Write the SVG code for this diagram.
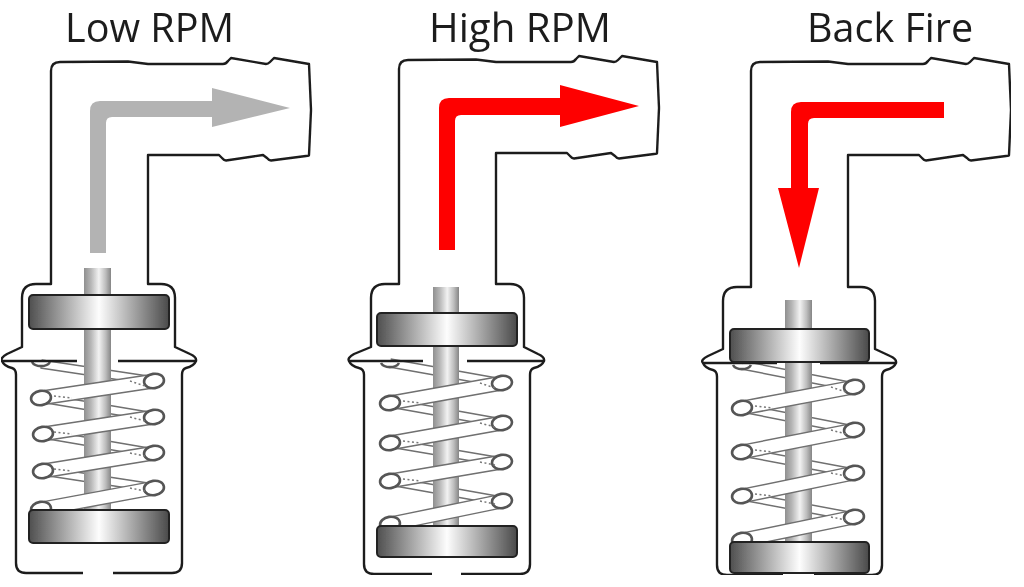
<svg xmlns="http://www.w3.org/2000/svg" width="1024" height="587" viewBox="0 0 1024 587">
<style>
.title{font-family:"Open Sans","Liberation Sans",sans-serif;font-size:39.5px;fill:#1c1c1c}
.ln{fill:none;stroke:#1e1e1e;stroke-width:2.4;stroke-linejoin:round}
.stem{fill:url(#gs)}
.disc{fill:url(#gd);stroke:#222;stroke-width:2}
.bo{fill:none;stroke:#6f6f6f;stroke-width:9.5}
.bi{fill:none;stroke:#fff;stroke-width:6.6}
.fo{fill:none;stroke:#6f6f6f;stroke-width:15}
.fi{fill:none;stroke:#fff;stroke-width:12}
.eye{fill:#fff;stroke:#555;stroke-width:2.6}
.dot{fill:none;stroke:#777;stroke-width:1.5;stroke-dasharray:2 2.5}
</style>
<defs>
<filter id="soft" x="0" y="0" width="1" height="1" filterUnits="objectBoundingBox"><feGaussianBlur stdDeviation="0.55"/></filter>
<linearGradient id="gs"><stop offset="0" stop-color="#8f8f8f"/><stop offset=".25" stop-color="#b5b5b5"/><stop offset=".55" stop-color="#f2f2f2"/><stop offset=".8" stop-color="#bdbdbd"/><stop offset="1" stop-color="#858585"/></linearGradient>
<linearGradient id="gd"><stop offset="0" stop-color="#4f4f4f"/><stop offset=".5" stop-color="#fdfdfd"/><stop offset="1" stop-color="#4a4a4a"/></linearGradient>
<path id="elbow" d="M51,250 V71 Q51,62 60,62 L128,61.5 L148,64 H223 Q226,64 228,61 L231,58 L266,64 Q268,64 270,62 L274,58 L309,64 L311,110 L309,155 Q309,156 306,156 L271,160.5 Q269,160.5 267,158 L263,155 L226,160.5 Q224,160.5 222,158 L219,155 H148 V250"/>
<ellipse id="ey" cx="0" cy="0" rx="10" ry="7.2" transform="rotate(-8)"/>
<path id="b1" d="M41,364L154,381M41,398L154,417M43,434L154,453M43,471L154,488"/>
<path id="f1" d="M41,398L154,381M43,434L154,417M43,471L154,453M41,509L154,488"/>
<path id="b2" d="M390,363L502,383M390,403L502,423M390,443L502,462M390,481L502,501"/>
<path id="f2" d="M390,403L502,383M390,443L502,423M390,481L502,462M390,524L502,501"/>
<path id="b3" d="M742,365L854,387M742,408L854,430M742,452L854,473M742,496L854,517"/>
<path id="f3" d="M742,408L854,387M742,452L854,430M742,496L854,473M742,540L854,517"/>
</defs>
<rect width="1024" height="587" fill="#fff"/>
<g filter="url(#soft)">
<g id="label-low"><text class="title" x="65" y="42" textLength="169" lengthAdjust="spacingAndGlyphs">Low RPM</text></g>
<g id="label-high"><text class="title" x="429" y="42" textLength="182" lengthAdjust="spacingAndGlyphs">High RPM</text></g>
<g id="label-back"><text class="title" x="807" y="42">Back Fire</text></g>

<g id="valve-low">
<use href="#b1" class="bo"/><use href="#b1" class="bi"/>
<rect class="stem" x="84" y="268" width="27" height="28"/>
<rect class="stem" x="84" y="328" width="27" height="183"/>
<use href="#f1" class="fo"/><use href="#f1" class="fi"/>
<use href="#ey" class="eye" x="154" y="381"/><use href="#ey" class="eye" x="154" y="417"/><use href="#ey" class="eye" x="154" y="453"/><use href="#ey" class="eye" x="154" y="488"/>
<use href="#ey" class="eye" x="41" y="398"/><use href="#ey" class="eye" x="43" y="434"/><use href="#ey" class="eye" x="43" y="471"/><use href="#ey" class="eye" x="41" y="509"/>
<path class="eye" d="M32,362 A9.5,6 0 0 0 50,362"/>
<path class="dot" d="M54,396L72,398M54,432L72,434M54,469L72,471M130,381L145,386M130,417L145,421M130,453L145,456M130,488L145,491"/>
<rect class="disc" x="29" y="295" width="140" height="34" rx="4"/>
<rect class="disc" x="29" y="510" width="140" height="33" rx="4"/>
<use href="#elbow" class="ln"/>
<path class="ln" d="M51,250 V284 H36 Q22,284 22,298 V347 L7,354 Q0,358 2,361 Q4,366 12,368 Q16,369 16,375 V563 Q16,573 26,573 H83 M113,573 H172 Q182,573 182,563 V375 Q182,369 186,368 Q194,366 196,361 Q197,357 190,354 L175,347 V298 Q175,284 161,284 H148 V250 M2,361 H77 M118,361 H196"/>
<path id="arrow-low" fill="#b3b3b3" d="M90,253 V111 Q90,101 100,101 H212 V88 L290,108 L212,127 V117 H112 Q106,117 106,123 V253 Z"/>
</g>

<g id="valve-high">
<use href="#b2" class="bo"/><use href="#b2" class="bi"/>
<rect class="stem" x="433" y="287" width="26" height="27"/>
<rect class="stem" x="433" y="345" width="26" height="181"/>
<use href="#f2" class="fo"/><use href="#f2" class="fi"/>
<use href="#ey" class="eye" x="502" y="383"/><use href="#ey" class="eye" x="502" y="423"/><use href="#ey" class="eye" x="502" y="462"/><use href="#ey" class="eye" x="502" y="501"/>
<use href="#ey" class="eye" x="390" y="403"/><use href="#ey" class="eye" x="390" y="443"/><use href="#ey" class="eye" x="390" y="481"/><use href="#ey" class="eye" x="390" y="524"/>
<path class="eye" d="M381,363 A9.5,6 0 0 0 399,363"/>
<path class="dot" d="M403,401L421,403M403,441L421,443M403,479L421,481M480,383L495,388M480,423L495,427M480,462L495,465M480,501L495,504"/>
<rect class="disc" x="377" y="313" width="140" height="33" rx="4"/>
<rect class="disc" x="377" y="526" width="140" height="31" rx="4"/>
<use href="#elbow" class="ln" transform="translate(348,-2)"/>
<path class="ln" d="M399,248 V284 H385 Q371,284 371,298 V347 L354,354 Q347,358 349,361 Q351,366 359,368 Q364,369 364,375 V564 Q364,574 374,574 H432 M461,574 H520 Q530,574 530,564 V375 Q530,369 534,368 Q542,366 544,361 Q545,357 538,354 L524,347 V298 Q524,284 510,284 H496 V248 M349,361 H423 M467,361 H544"/>
<path id="arrow-high" fill="#fe0000" d="M439,250 V108 Q439,98 449,98 H560 V85 L639,106 L560,127 V115 H461 Q455,115 455,121 V250 Z"/>
</g>

<g id="valve-back">
<use href="#b3" class="bo"/><use href="#b3" class="bi"/>
<rect class="stem" x="785" y="300" width="27" height="29"/>
<rect class="stem" x="785" y="361" width="27" height="182"/>
<use href="#f3" class="fo"/><use href="#f3" class="fi"/>
<use href="#ey" class="eye" x="854" y="387"/><use href="#ey" class="eye" x="854" y="430"/><use href="#ey" class="eye" x="854" y="473"/><use href="#ey" class="eye" x="854" y="517"/>
<use href="#ey" class="eye" x="742" y="408"/><use href="#ey" class="eye" x="742" y="452"/><use href="#ey" class="eye" x="742" y="496"/><use href="#ey" class="eye" x="742" y="540"/>
<path class="eye" d="M733,365 A9.5,6 0 0 0 751,365"/>
<path class="dot" d="M755,406L773,408M755,450L773,452M755,494L773,496M831,387L846,392M831,430L846,434M831,473L846,476M831,517L846,520"/>
<use href="#elbow" class="ln" transform="translate(700,0)"/>
<path class="ln" d="M751,250 V287 H737 Q723,287 723,301 V349 L708,356 Q700,360 703,363 Q705,368 713,370 Q717,371 717,377 V565 Q717,575 727,575 H783 M814,575 H872 Q882,575 882,565 V377 Q882,371 886,370 Q894,368 896,363 Q897,359 890,356 L875,349 V301 Q875,287 861,287 H848 V250 M703,363 H777 M820,363 H896"/>
<rect class="disc" x="730" y="329" width="139" height="33" rx="4"/>
<rect class="disc" x="730" y="542" width="139" height="31" rx="4"/>
<path id="arrow-back" fill="#fe0000" d="M944,102 H801 Q791,102 791,112 V188 H778 L799,268 L819,188 H808 V124 Q808,118 814,118 H944 Z"/>
</g>
</g>
</svg>
